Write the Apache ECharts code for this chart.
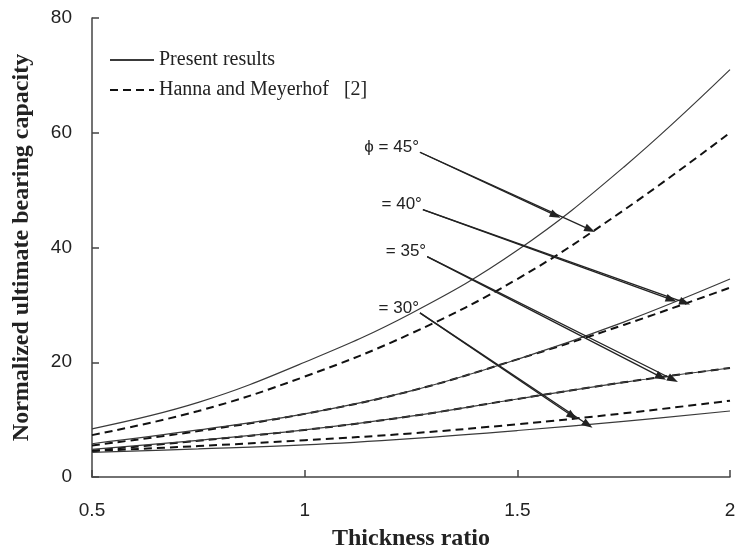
<!DOCTYPE html>
<html>
<head>
<meta charset="utf-8">
<script src="https://cdn.jsdelivr.net/npm/echarts@6/dist/echarts.min.js"></script>
<style>
  html, body { margin: 0; padding: 0; background: #fff; }
  #main { width: 736px; height: 550px; }
</style>
</head>
<body>
<div id="main"></div>
<script>
// thickness ratio samples
var thickness = [0.5, 0.75, 1, 1.25, 1.5, 1.75, 2];

// present results (solid)
var present45 = [8.4, 13, 20, 28.5, 39.5, 54, 71];
var present40 = [5.8, 8.2, 11, 15, 20.5, 27, 34.5];
var present35 = [4.8, 6.4, 8.2, 10.6, 13.6, 16.5, 19];
var present30 = [4.3, 4.9, 5.6, 6.7, 8.1, 9.7, 11.5];

// Hanna and Meyerhof (dashed)
var hanna45 = [7.3, 11.5, 17.5, 25, 34.5, 46.5, 60];
var hanna40 = [5.5, 8, 11, 15, 20.5, 26.5, 33];
var hanna35 = [4.6, 6.3, 8.2, 10.6, 13.6, 16.5, 19];
var hanna30 = [4.5, 5.4, 6.4, 7.6, 9.2, 11.1, 13.3];

var xTicks = [0.5, 1, 1.5, 2];
var yTicks = [0, 20, 40, 60, 80];

// annotation labels and arrows (data coords): label, start, first head, second head
var annLabels = ['\u03d5 = 45\u00b0', '= 40\u00b0', '= 35\u00b0', '= 30\u00b0'];
var annStart = [[1.271, 56.6], [1.278, 46.6], [1.288, 38.4], [1.271, 28.6]];
var annHead1 = [[1.59, 45.6], [1.862, 30.9], [1.838, 17.4], [1.63, 10.6]];
var annHead2 = [[1.671, 43.1], [1.894, 30.4], [1.866, 17.0], [1.666, 9.1]];

function pairs(ys) {
  return thickness.map(function (x, i) { return [x, ys[i]]; });
}

var PRESENT = 'Present results';
var HANNA = 'Hanna and Meyerhof   [2]';

function solid(ys) {
  return {
    name: PRESENT, type: 'line', smooth: 0.4, symbol: 'none',
    data: pairs(ys),
    lineStyle: { color: '#3a3a3a', width: 1.2, type: 'solid' },
    itemStyle: { color: '#3a3a3a' },
    z: 3
  };
}
function dashed(ys) {
  return {
    name: HANNA, type: 'line', smooth: 0.4, symbol: 'none',
    data: pairs(ys),
    lineStyle: { color: '#111', width: 2, type: [8, 5] },
    itemStyle: { color: '#111' },
    z: 2
  };
}

var arrowLines = [];
for (var i = 0; i < annStart.length; i++) {
  arrowLines.push([{ coord: annStart[i] }, { coord: annHead1[i] }]);
  arrowLines.push([{ coord: annStart[i] }, { coord: annHead2[i] }]);
}

var series = [
  solid(present45), dashed(hanna45),
  solid(present40), dashed(hanna40),
  solid(present35), dashed(hanna35),
  solid(present30), dashed(hanna30),
  {
    name: 'arrows', type: 'line', data: [], symbol: 'none',
    markLine: {
      silent: true,
      symbol: ['none', 'triangle'],
      symbolSize: [8, 11],
      label: { show: false },
      lineStyle: { color: '#222', width: 1.3, type: 'solid' },
      data: arrowLines
    }
  }
];

var chart = echarts.init(document.getElementById('main'));
chart.setOption({
  animation: false,
  backgroundColor: '#fff',
  grid: { left: 92, right: 6, top: 18, bottom: 73, containLabel: false, outerBoundsMode: 'none' },
  legend: {
    data: [PRESENT, HANNA],
    orient: 'vertical',
    left: 104, top: 45,
    itemWidth: 44, itemHeight: 14, itemGap: 10,
    itemStyle: { opacity: 0 },
    textStyle: { fontFamily: 'Liberation Serif', fontSize: 20, color: '#222' }
  },
  xAxis: {
    type: 'value', min: 0.5, max: 2, interval: 0.5,
    name: 'Thickness ratio', nameLocation: 'middle', nameGap: 50,
    nameTextStyle: { fontFamily: 'Liberation Serif', fontWeight: 'bold', fontSize: 24, color: '#222' },
    axisLine: { lineStyle: { color: '#444', width: 1.5 } },
    axisTick: { inside: true, length: 7, lineStyle: { color: '#444', width: 1.5 } },
    axisLabel: {
      fontFamily: 'Liberation Sans', fontSize: 19, color: '#222', margin: 24,
      formatter: function (v) { return xTicks.indexOf(v) >= 0 ? String(v) : ''; }
    },
    splitLine: { show: false }
  },
  yAxis: {
    type: 'value', min: 0, max: 80, interval: 20,
    name: 'Normalized ultimate bearing capacity', nameLocation: 'middle', nameGap: 58,
    nameTextStyle: { fontFamily: 'Liberation Serif', fontWeight: 'bold', fontSize: 24, color: '#222' },
    axisLine: { show: true, lineStyle: { color: '#444', width: 1.5 } },
    axisTick: { show: true, inside: true, length: 7, lineStyle: { color: '#444', width: 1.5 } },
    axisLabel: {
      fontFamily: 'Liberation Sans', fontSize: 19, color: '#222', margin: 20,
      formatter: function (v) { return yTicks.indexOf(v) >= 0 ? String(v) : ''; }
    },
    splitLine: { show: false }
  },
  series: series
});

// place annotation texts just left of each arrow start
var texts = annStart.map(function (p, i) {
  var px = chart.convertToPixel({ gridIndex: 0 }, p);
  return {
    type: 'text', x: px[0] - 1, y: px[1] - 5,
    style: {
      text: annLabels[i], align: 'right', verticalAlign: 'middle',
      font: '17px "Liberation Sans"', fill: '#222'
    }
  };
});
chart.setOption({ graphic: texts });
</script>
</body>
</html>
